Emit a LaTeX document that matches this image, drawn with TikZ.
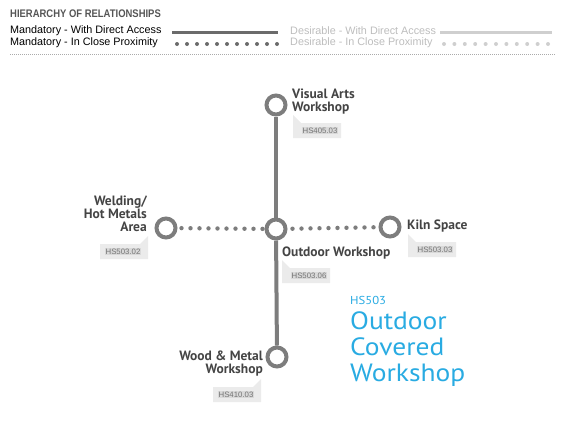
\documentclass[tikz,border=0pt]{standalone}
\usepackage{fontspec}
\setmainfont{Liberation Sans}
\newfontfamily\dinfont{PT Sans}
\newfontfamily\dinwide{PT Sans}[FakeStretch=1.1]
\newfontfamily\narrowfont{Liberation Sans}[FakeStretch=0.86]
\definecolor{ringgray}{HTML}{7D7D7D}
\definecolor{labelgray}{HTML}{444444}
\definecolor{titlegray}{HTML}{555555}
\definecolor{mandgray}{HTML}{6B6B6B}
\definecolor{desgray}{HTML}{BDBDBD}
\definecolor{desline}{HTML}{CFCFCF}
\definecolor{tagbg}{HTML}{EBEBEB}
\definecolor{taghl}{HTML}{D9D9D9}
\definecolor{tagtxt}{HTML}{737373}
\definecolor{sepgray}{HTML}{ABABAB}
\definecolor{skyblue}{HTML}{29ABE2}
\newcommand\tagnotchleft[4]{%
  \fill[tagbg] (#2,#3-8) -- (#2+8,#3) -- (#2+48,#3) -- (#2+48,#3+15) -- (#2,#3+15) -- cycle;
  \node[tagtext] (#1) at (#2+27,#3+7.8) {#4};}
\newcommand\tagnotchright[4]{%
  \fill[tagbg] (#2,#3) -- (#2+40,#3) -- (#2+48,#3-8) -- (#2+48,#3+15) -- (#2,#3+15) -- cycle;
  \node[tagtext] (#1) at (#2+23,#3+7.8) {#4};}
\tikzset{
  ring/.style={circle, draw=ringgray, line width=4pt, fill=white, minimum size=19pt, inner sep=0pt},
  solidlink/.style={draw=ringgray, line width=4pt},
  dotlink/.style={draw=ringgray, line width=4.4pt, line cap=round, dash pattern=on 0pt off 9pt},
  lbl/.style={text=labelgray, inner sep=0pt, font=\dinfont\bfseries\fontsize{13.5}{13}\selectfont},
  tagtext/.style={fill=taghl, text=tagtxt, inner sep=0.7pt, font=\fontsize{7.8}{8}\selectfont},
  legtxt/.style={anchor=west, inner sep=0pt, font=\fontsize{10.8}{12}\selectfont},
}
\begin{document}
\begin{tikzpicture}[x=1pt, y=-1pt]
\useasboundingbox (0,0) rectangle (565,426);
% legend
\node[legtxt, text=titlegray, font=\narrowfont\bfseries\fontsize{11}{12}\selectfont] (legtitle) at (10,14) {HIERARCHY OF RELATIONSHIPS};
\node[legtxt, text=black] (m1) at (10,31) {Mandatory - With Direct Access};
\node[legtxt, text=black] (m2) at (10,43) {Mandatory - In Close Proximity};
\node[legtxt, text=desgray] (d1) at (290,31) {Desirable - With Direct Access};
\node[legtxt, text=desgray] (d2) at (290,43) {Desirable - In Close Proximity};
\coordinate (m1a) at (172,32); \coordinate (m1b) at (278,32);
\coordinate (m2a) at (177,44); \coordinate (m2b) at (278,44);
\coordinate (d1a) at (440,32); \coordinate (d1b) at (552,32);
\coordinate (d2a) at (444,44); \coordinate (d2b) at (551,44);
\coordinate (sepa) at (10,54); \coordinate (sepb) at (555,54);
\draw[mandgray, line width=3pt] (m1a) -- (m1b);
\draw[mandgray, line width=4pt, line cap=round, dash pattern=on 0pt off 10pt] (m2a) -- (m2b);
\draw[desline, line width=3pt] (d1a) -- (d1b);
\draw[desline, line width=4pt, line cap=round, dash pattern=on 0pt off 10.4pt] (d2a) -- (d2b);
\draw[sepgray, line width=0.6pt, dash pattern=on 0.7pt off 1.3pt] (sepa) -- (sepb);
% nodes
\node[ring] (va) at (276,105) {};
\node[ring] (ow) at (276,229) {};
\node[ring] (we) at (166,228) {};
\node[ring] (ki) at (390,227) {};
\node[ring] (wm) at (277,357) {};
% connectors
\draw[solidlink] (va) -- (ow);
\draw[solidlink] (ow) -- (wm);
\draw[dotlink, shorten <=4pt] (we) -- (ow);
\draw[dotlink, shorten <=5pt] (ow) -- (ki);
% labels
\node[lbl, anchor=west, align=left] (valbl) at (292,101.5) {Visual Arts\\Workshop};
\node[lbl, anchor=east, align=right] (welbl) at (147,213.5) {Welding/\\Hot Metals\\Area};
\node[lbl, anchor=west] (kilbl) at (407,226) {Kiln Space};
\node[lbl, anchor=west] (owlbl) at (282,253) {Outdoor Workshop};
\node[lbl, anchor=east, align=right] (wmlbl) at (263,364) {Wood \& Metal\\Workshop};
% tags
\tagnotchleft{tva}{293}{123}{HS405.03}
\tagnotchright{twe}{100}{244}{HS503.02}
\tagnotchleft{tki}{408}{242}{HS503.03}
\tagnotchleft{tow}{282}{268}{HS503.06}
\tagnotchright{twm}{213}{387}{HS410.03}
% title
\node[anchor=west, inner sep=0pt, text=skyblue, font=\dinwide\fontsize{11.5}{12}\selectfont] (hs) at (350,300) {HS503};
\node[anchor=west, align=left, inner sep=0pt, text=skyblue, font=\dinwide\fontsize{25}{26}\selectfont] (bigtitle) at (350,349) {Outdoor\\Covered\\Workshop};
\end{tikzpicture}
\end{document}
